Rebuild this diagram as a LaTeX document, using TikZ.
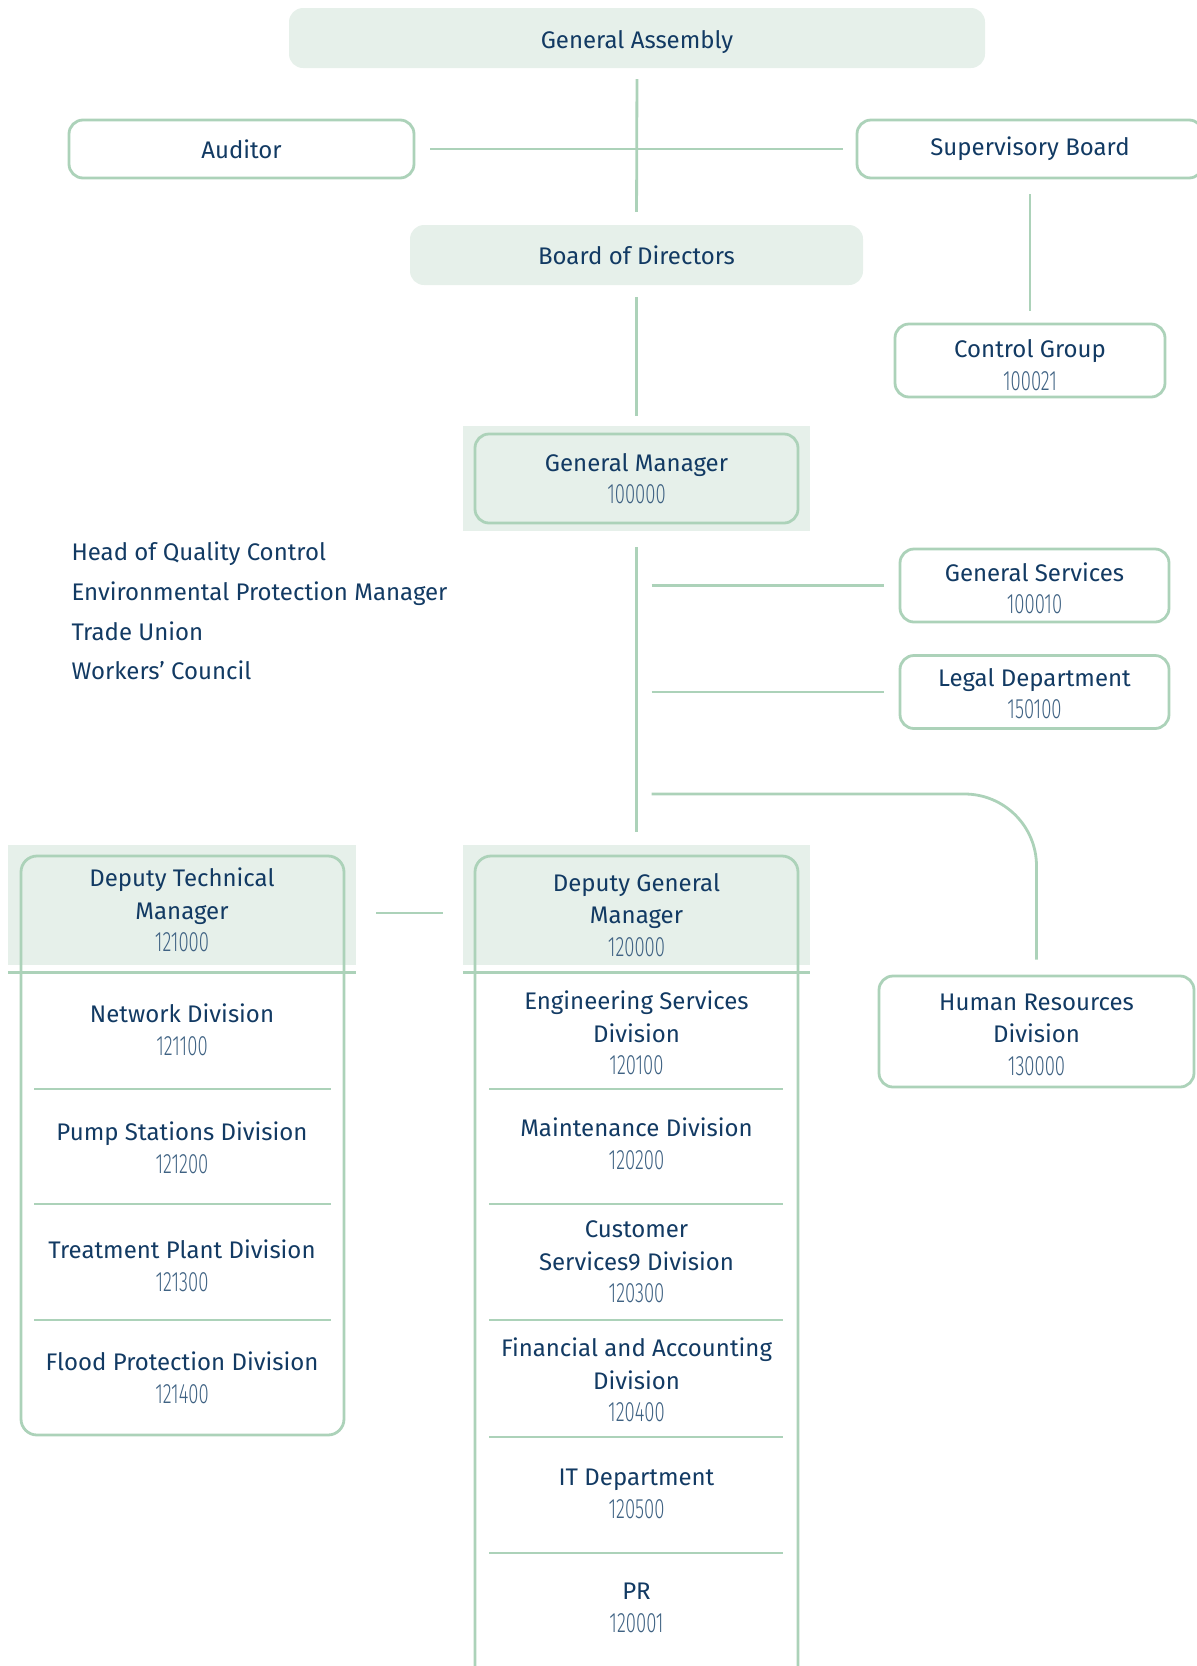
\documentclass[tikz,border=0pt]{standalone}
\usepackage{fontspec}
\setmainfont{Fira Sans}
\newfontfamily\numfont{Fira Sans Light}[FakeStretch=0.66]
\definecolor{navy}{HTML}{123A63}
\definecolor{numblue}{HTML}{3F6283}
\definecolor{boxfill}{HTML}{E6F0EA}
\definecolor{linegreen}{HTML}{ACD2B9}
\newcommand{\unitno}[1]{{\numfont\fontsize{28}{32.5}\selectfont\color{numblue}#1}}
\tikzset{
  conn/.style={draw=linegreen, line width=2.8pt},
  plainbox/.style={fill=boxfill, rounded corners=14pt, text=navy, font=\fontsize{24}{32.5}\selectfont},
  unitbox/.style={draw=linegreen, line width=2.8pt, rounded corners=14pt, fill=white, text=navy, align=center, font=\fontsize{24}{32.5}\selectfont},
  headfill/.style={fill=boxfill, inner sep=0pt},
  colframe/.style={draw=linegreen, line width=2.8pt, rounded corners=16pt},
  cell/.style={text=navy, align=center, font=\fontsize{24}{32.5}\selectfont},
}
\begin{document}
\begin{tikzpicture}[x=1pt,y=-1pt]
\useasboundingbox (0,0) rectangle (1197,1666);
\clip (0,0) rectangle (1197,1666);

\node[plainbox, minimum width=696pt, minimum height=60pt, text height=26pt] (ga) at (637,38) {General Assembly};
\node[unitbox, minimum width=345pt, minimum height=58pt] (aud) at (241.5,149) {Auditor};
\node[unitbox, minimum width=346pt, minimum height=58pt] (sup) at (1030,149) {Supervisory Board};
\node[plainbox, minimum width=453pt, minimum height=60pt] (bod) at (636.5,255) {Board of Directors};
\node[unitbox, minimum width=270pt, minimum height=73pt] (cg) at (1030,360.5) {};
\node[cell, yshift=-4.8pt] (cgtext) at (cg.center) {Control Group\\\unitno{100021}};

\node[headfill, minimum width=347pt, minimum height=105pt] (gmback) at (636.5,478.5) {};
\node[unitbox, fill=boxfill, minimum width=323pt, minimum height=89pt] (gm) at (636.5,478.5) {General Manager\\\unitno{100000}};

\node[cell, align=left, anchor=west, font=\fontsize{24}{39.6}\selectfont] (staff) at (68,611) {Head of Quality Control\\Environmental Protection Manager\\Trade Union\\Workers' Council};

\node[unitbox, minimum width=269pt, minimum height=73pt] (gs) at (1034.5,585.5) {};
\node[cell, yshift=-2.7pt] (gstext) at (gs.center) {General Services\\\unitno{100010}};
\node[unitbox, minimum width=269pt, minimum height=73pt] (legal) at (1034.5,692) {};
\node[cell, yshift=-1.6pt] (legaltext) at (legal.center) {Legal Department\\\unitno{150100}};
\node[unitbox, minimum width=315pt, minimum height=111pt] (hr) at (1036.5,1031.5) {};
\node[cell, yshift=-3.2pt] (hrtext) at (hr.center) {Human Resources\\Division\\\unitno{130000}};

\node[headfill, minimum width=348pt, minimum height=120pt] (dtmback) at (182,905) {};
\node[headfill, minimum width=347pt, minimum height=120pt] (dgmback) at (636.5,905) {};
\draw[conn] ([yshift=-7pt]dtmback.south west) -- ([yshift=-7pt]dtmback.south east);
\draw[conn] ([yshift=-7pt]dgmback.south west) -- ([yshift=-7pt]dgmback.south east);
\draw[colframe] (21,856) rectangle (344,1435);
\draw[colframe] (475,856) rectangle (798,1684);

\node[cell] (dtm) at (182,910) {Deputy Technical\\Manager\\\unitno{121000}};
\node[cell] (net) at (182,1030) {Network Division\\\unitno{121100}};
\draw[conn] (34,1089) -- (331,1089);
\node[cell] (pump) at (182,1148) {Pump Stations Division\\\unitno{121200}};
\draw[conn] (34,1204) -- (331,1204);
\node[cell] (treat) at (182,1266) {Treatment Plant Division\\\unitno{121300}};
\draw[conn] (34,1320) -- (331,1320);
\node[cell] (flood) at (182,1378) {Flood Protection Division\\\unitno{121400}};

\node[cell] (dgm) at (636.5,915) {Deputy General\\Manager\\\unitno{120000}};
\node[cell] (eng) at (636.5,1033) {Engineering Services\\Division\\\unitno{120100}};
\draw[conn] (489,1089) -- (783,1089);
\node[cell] (maint) at (636.5,1144) {Maintenance Division\\\unitno{120200}};
\draw[conn] (489,1204) -- (783,1204);
\node[cell] (cust) at (636.5,1262) {Customer\\Services9 Division\\\unitno{120300}};
\draw[conn] (489,1320) -- (783,1320);
\node[cell] (fin) at (636.5,1380) {Financial and Accounting\\Division\\\unitno{120400}};
\draw[conn] (489,1437) -- (783,1437);
\node[cell] (it) at (636.5,1494) {IT Department\\\unitno{120500}};
\draw[conn] (489,1553) -- (783,1553);
\node[cell] (pr) at (636.5,1608) {PR\\\unitno{120001}};

\draw[conn, shorten <=11pt, shorten >=13pt] (ga.south) -- (bod.north);
\draw[conn, shorten <=15pt, shorten >=13pt] (aud.east) -- (sup.west);
\draw[conn, shorten <=15pt, shorten >=12pt] (sup.south) -- (cg.north);
\draw[conn, shorten <=12pt, shorten >=10pt] (bod.south) -- (gmback.north);
\draw[conn, shorten <=16pt, shorten >=13pt] (gmback.south) -- (dgmback.north);
\draw[conn, shorten <=15pt, shorten >=15pt] (gmback.south |- gs.west) -- (gs.west);
\draw[conn, shorten <=15pt, shorten >=15pt] (gmback.south |- legal.west) -- (legal.west);
\coordinate (hrfork) at (636.5,794);
\draw[conn, rounded corners=72pt, shorten <=15pt, shorten >=15pt] (hrfork) -| (hr.north);
\draw[conn, shorten <=20pt, shorten >=20pt] ([yshift=-8pt]dtmback.east) -- ([yshift=-8pt]dgmback.west);
\end{tikzpicture}
\end{document}
